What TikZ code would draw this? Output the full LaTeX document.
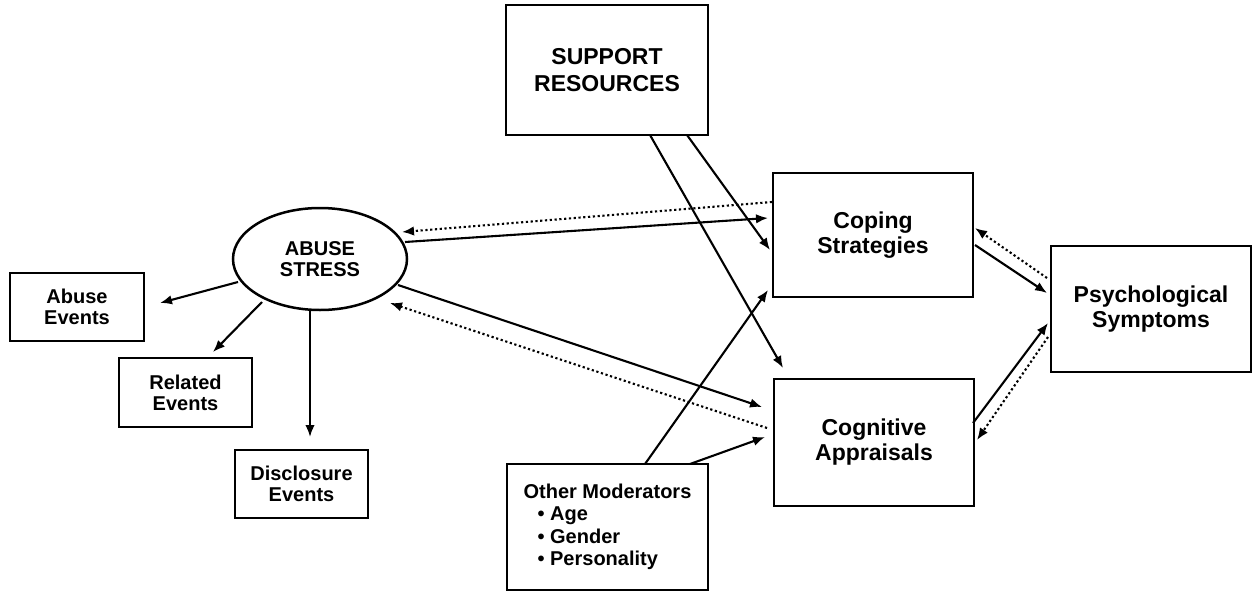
\documentclass[tikz,border=0pt]{standalone}
\usepackage{fontspec}
\setmainfont{Liberation Sans}
\usetikzlibrary{arrows.meta,shapes.geometric}
\begin{document}
\begin{tikzpicture}[x=1pt,y=1pt,
  box/.style={draw,line width=2.8pt,inner sep=0pt,align=center,font=\bfseries\fontsize{20}{21}\selectfont},
  bigbox/.style={box,font=\bfseries\fontsize{23}{25}\selectfont},
  arr/.style={line width=2.1pt,-{Latex[length=12pt,width=9.5pt]}},
  dotarr/.style={arr,dash pattern=on 2.2pt off 2.6pt},
]
\path[use as bounding box,fill=white] (0,0) rectangle (1255,-592);

% nodes
\node[draw,ellipse,line width=2.5pt,inner sep=0pt,minimum width=174pt,minimum height=102pt,align=center,font=\bfseries\fontsize{20}{21}\selectfont] (ell) at (320,-259) {ABUSE\\STRESS};
\node[box,minimum width=134pt,minimum height=68pt] (abuse) at (77,-307) {Abuse\\Events};
\node[box,minimum width=133pt,minimum height=69pt] (related) at (185.5,-392.5) {Related\\Events};
\node[box,minimum width=133pt,minimum height=68pt] (disc) at (301.5,-484) {Disclosure\\Events};
\node[bigbox,minimum width=202pt,minimum height=130pt,font=\bfseries\fontsize{23}{27}\selectfont] (sup) at (607,-70) {SUPPORT\\RESOURCES};
\node[bigbox,minimum width=200pt,minimum height=124pt] (cop) at (873,-235) {Coping\\Strategies};
\node[bigbox,minimum width=200pt,minimum height=127pt] (cog) at (874,-442.5) {Cognitive\\Appraisals};
\node[bigbox,minimum width=200pt,minimum height=126pt] (psy) at (1151,-309) {Psychological\\Symptoms};
\node[box,align=left,minimum width=201pt,minimum height=126pt,font=\bfseries\fontsize{20}{22.5}\selectfont] (mod) at (607.5,-527)
  {Other Moderators\\\hspace*{14pt}\textbullet\ Age\\\hspace*{14pt}\textbullet\ Gender\\\hspace*{14pt}\textbullet\ Personality};

% abuse stress to events
\draw[arr] ([shift={(-82,-23)}]ell.center) -- ([shift={(83,4)}]abuse.center);
\draw[arr] ([shift={(-58,-43)}]ell.center) -- ([shift={(27.5,40.5)}]related.center);
\draw[arr] ([shift={(-10,-51)}]ell.center) -- ([shift={(8.5,47)}]disc.center);

% abuse stress <-> coping / cognitive
\draw[arr] ([shift={(85,17)}]ell.center) -- ([shift={(-105,17)}]cop.center);
\draw[dotarr] ([shift={(-101,33)}]cop.center) -- ([shift={(82,27)}]ell.center);
\draw[arr] ([shift={(78,-26)}]ell.center) -- ([shift={(-112,35.5)}]cog.center);
\draw[dotarr] ([shift={(-107,14.5)}]cog.center) -- ([shift={(70,-44)}]ell.center);

% support resources
\draw[arr] ([shift={(43,-65)}]sup.center) -- ([shift={(-91,74.5)}]cog.center);
\draw[arr] ([shift={(80,-65)}]sup.center) -- ([shift={(-103,-15)}]cop.center);

% other moderators
\draw[arr] ([shift={(37.5,63)}]mod.center) -- ([shift={(-105,-55)}]cop.center);
\draw[arr] ([shift={(82.5,63)}]mod.center) -- ([shift={(-109,5.5)}]cog.center);

% to / from psychological symptoms
\draw[arr] ([shift={(102,-10)}]cop.center) -- ([shift={(-104,16)}]psy.center);
\draw[dotarr] ([shift={(-104,31)}]psy.center) -- ([shift={(102,7)}]cop.center);
\draw[arr] ([shift={(99,19.5)}]cog.center) -- ([shift={(-103,-14)}]psy.center);
\draw[dotarr] ([shift={(-103,-28)}]psy.center) -- ([shift={(103,2.5)}]cog.center);
\end{tikzpicture}
\end{document}
